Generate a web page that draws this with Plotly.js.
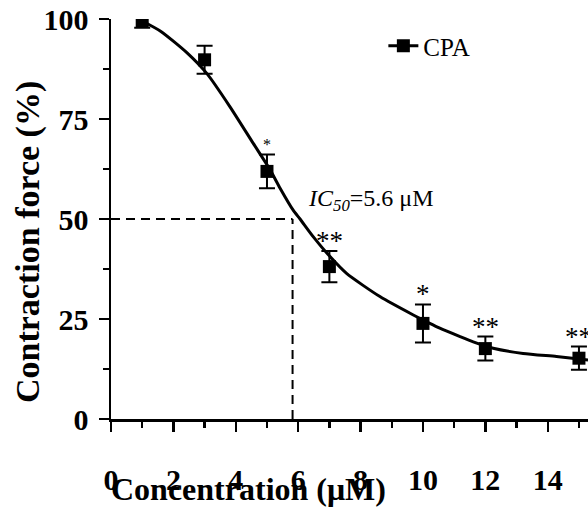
<!DOCTYPE html>
<html>
<head>
<meta charset="utf-8">
<script src="https://cdn.plot.ly/plotly-3.0.1.min.js"></script>
<style>html,body{margin:0;padding:0;background:#fff;}#chart{width:588px;height:508px;}</style>
</head>
<body>
<div id="chart"></div>
<script>
// Measured data points (mean ± error)
const concX = [1, 3, 5, 7, 10, 12, 15];
const forceY = [99.5, 89.8, 61.9, 38.1, 23.9, 17.6, 15.2];
const forceErr = [1.7, 3.5, 4.2, 3.9, 4.75, 3.0, 2.9];

// Fitted curve
const fitX = [1.0, 1.6, 2.43, 3.07, 3.81, 4.56, 5.10, 5.42, 5.84, 6.06, 6.48, 7.02, 7.55, 8.62, 9.69, 10.22, 10.54, 11.19, 11.61, 12.25, 13.21, 14.28, 15.29];
const fitY = [99.5, 96.9, 91.6, 86.4, 78.1, 68.9, 62.3, 57.7, 52.2, 50.0, 45.6, 40.6, 36.4, 30.6, 26.0, 23.9, 22.7, 20.6, 19.3, 17.7, 16.4, 15.6, 14.75];

// Significance labels
const sigX = [5, 7, 10, 12, 15];
const sigText = ['*', '**', '*', '**', '**'];

// IC50 guide
const ic50X = 5.82;
const ic50Y = 50;
const ic50Label = '<i>IC</i><sub><i>50</i></sub>=5.6 μM';

const seriesName = 'CPA';
const xTitle = 'Concentration (μM)';
const yTitle = 'Contraction force (%)';

const serif = 'Liberation Serif, Times New Roman, serif';

const traces = [
  {
    x: fitX, y: fitY, type: 'scatter', mode: 'lines',
    line: {color: '#000', width: 3, shape: 'spline', smoothing: 0.6},
    showlegend: false, hoverinfo: 'skip'
  },
  {
    x: concX, y: forceY, type: 'scatter', mode: 'markers',
    marker: {symbol: 'square', size: 13, color: '#000'},
    error_y: {type: 'data', array: forceErr, visible: true, color: '#000', thickness: 2, width: 8},
    showlegend: false
  },
  {
    x: [null], y: [null], type: 'scatter', mode: 'lines+markers', name: seriesName,
    line: {color: '#000', width: 3},
    marker: {symbol: 'square', size: 13, color: '#000'}
  }
];

const annotations = sigX.map((xv, i) => {
  const idx = concX.indexOf(xv);
  const small = xv === 5;
  return {
    x: xv, y: forceY[idx] + forceErr[idx], xref: 'x', yref: 'y',
    text: sigText[i], showarrow: false, yanchor: 'bottom',
    yshift: small ? 0 : -7,
    font: {family: serif, size: small ? 16 : 27, color: '#000'}
  };
});
annotations.push({
  x: ic50X, y: ic50Y, xref: 'x', yref: 'y', text: ic50Label, showarrow: false,
  xanchor: 'left', yanchor: 'bottom', xshift: 13, yshift: 2,
  font: {family: serif, size: 24, color: '#000'}
});
// axis titles, placed as in the reference
annotations.push({
  x: -0.174, y: 0.4425, xref: 'paper', yref: 'paper', text: yTitle, showarrow: false,
  textangle: -90, xanchor: 'center', yanchor: 'middle',
  font: {family: serif, size: 34, color: '#000', weight: 'bold'}
});
annotations.push({
  x: 0.289, y: -0.176, xref: 'paper', yref: 'paper', text: xTitle, showarrow: false,
  xanchor: 'center', yanchor: 'middle',
  font: {family: serif, size: 32, color: '#000', weight: 'bold'}
});

const layout = {
  width: 588, height: 508,
  margin: {l: 111, r: 0, t: 19, b: 89, pad: 0},
  paper_bgcolor: '#fff', plot_bgcolor: '#fff',
  showlegend: true,
  legend: {
    x: 0.571, y: 0.99, xanchor: 'left', yanchor: 'top',
    bgcolor: 'rgba(0,0,0,0)',
    font: {family: serif, size: 25, color: '#000'}
  },
  xaxis: {
    range: [0, 15.29], showgrid: false, zeroline: false,
    showline: true, linecolor: '#000', linewidth: 2.5,
    ticks: 'outside', ticklen: 10, tickwidth: 2.5, tickcolor: '#000',
    dtick: 2, tick0: 0,
    minor: {dtick: 1, ticks: 'outside', ticklen: 6, tickwidth: 2.5, tickcolor: '#000', showgrid: false},
    tickfont: {family: serif, size: 30, color: '#000', weight: 'bold'},
    ticklabelstandoff: 22
  },
  yaxis: {
    range: [0, 100], showgrid: false, zeroline: false,
    showline: true, linecolor: '#000', linewidth: 2.5,
    ticks: 'outside', ticklen: 10, tickwidth: 2.5, tickcolor: '#000',
    dtick: 25, tick0: 0,
    minor: {dtick: 12.5, ticks: 'outside', ticklen: 6, tickwidth: 2.5, tickcolor: '#000', showgrid: false},
    tickfont: {family: serif, size: 30, color: '#000', weight: 'bold'},
    ticklabelstandoff: 4
  },
  shapes: [
    {type: 'line', xref: 'x', yref: 'y', x0: 0, x1: ic50X, y0: ic50Y, y1: ic50Y,
     line: {color: '#000', width: 2, dash: '9px,6px'}},
    {type: 'line', xref: 'x', yref: 'y', x0: ic50X, x1: ic50X, y0: 0, y1: ic50Y,
     line: {color: '#000', width: 2, dash: '9px,6px'}}
  ],
  annotations: annotations
};

Plotly.newPlot('chart', traces, layout, {displayModeBar: false, staticPlot: true});
</script>
</body>
</html>
